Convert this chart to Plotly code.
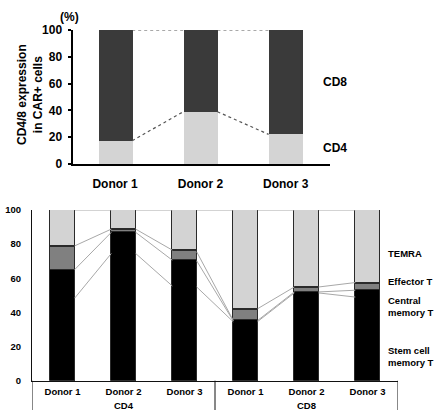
import plotly.graph_objects as go

# ---------------- data ----------------
donors = ["Donor 1", "Donor 2", "Donor 3"]
cd4_pct = [17.4, 39.0, 22.1]
cd8_pct = [82.6, 61.0, 77.9]
y_ticks_top = [0, 20, 40, 60, 80, 100]

groups = ["CD4", "CD8"]
subset_names = ["Stem cell\nmemory T", "Central\nmemory T", "Effector T", "TEMRA"]
stem_mem = [65.1, 86.9, 70.6, 35.7, 52.0, 53.3]
central_mem = [13.3, 1.5, 5.2, 5.8, 2.3, 3.5]
effector = [0.6, 0.7, 0.7, 0.7, 0.8, 0.7]
temra = [21.0, 10.9, 23.5, 57.8, 44.9, 42.5]
y_ticks_bottom = [0, 20, 40, 60, 80, 100]

# series-line end values between neighbouring bars (as drawn in the source)
series_start = [[79.0, 65.1, 48.4], [88.8, 86.9, 74.5], [75.5, 70.2, 54.9],
                [42.2, 35.3, 34.7], [54.9, 52.0, 51.4]]
series_end = [[88.8, 86.9, 74.5], [76.5, 70.6, 55.5], [35.3, 35.0, 34.5],
              [54.9, 52.0, 51.4], [57.5, 53.0, 49.0]]

# ---------------- styling ----------------
FONT = "Liberation Sans, Arial, sans-serif"
BW = 0.4

fig = go.Figure()

# top chart
xt = list(range(len(donors)))
fig.add_trace(go.Bar(x=xt, y=cd4_pct, width=BW, marker=dict(color="#d4d4d4", line=dict(width=0)),
                     xaxis="x", yaxis="y", showlegend=False, hoverinfo="skip"))
fig.add_trace(go.Bar(x=xt, y=cd8_pct, width=BW, marker=dict(color="#3a3a3a", line=dict(width=0)),
                     xaxis="x", yaxis="y", showlegend=False, hoverinfo="skip"))

tops_total = [a + b for a, b in zip(cd4_pct, cd8_pct)]
dx, dy = [], []
for series in (cd4_pct, tops_total):
    for i in range(len(series) - 1):
        dx += [i + BW / 2, i + 1 - BW / 2, None]
        dy += [series[i], series[i + 1], None]
fig.add_trace(go.Scatter(x=dx, y=dy, mode="lines", line=dict(color="#555555", width=1.2, dash="dot"),
                         xaxis="x", yaxis="y", showlegend=False, hoverinfo="skip"))

# bottom chart
xb = list(range(len(stem_mem)))
colors = ["#000000", "#808080", "#3c3c3c", "#d3d3d3"]
for vals, col in zip([stem_mem, central_mem, effector, temra], colors):
    fig.add_trace(go.Bar(x=xb, y=vals, width=BW, marker=dict(color=col, line=dict(color="#2a2a2a", width=1)),
                         xaxis="x2", yaxis="y2", showlegend=False, hoverinfo="skip"))

totals = [a + b + c + d for a, b, c, d in zip(stem_mem, central_mem, effector, temra)]
sx, sy = [], []
for i in range(len(xb) - 1):
    sx += [i + BW / 2, i + 1 - BW / 2, None]
    sy += [totals[i], totals[i + 1], None]
    for a, b in zip(series_start[i], series_end[i]):
        sx += [i + BW / 2, i + 1 - BW / 2, None]
        sy += [a, b, None]
fig.add_trace(go.Scatter(x=sx, y=sy, mode="lines", line=dict(color="#a8a8a8", width=1),
                         xaxis="x2", yaxis="y2", showlegend=False, hoverinfo="skip"))

W, H = 436, 410
def px(x): return x / W
def py(y): return 1 - y / H

bold = dict(family=FONT, color="#000000", weight="bold")

fig.update_layout(
    width=W, height=H, margin=dict(l=0, r=0, t=0, b=0, autoexpand=False),
    paper_bgcolor="white", plot_bgcolor="white", barmode="stack", bargap=0,
    xaxis=dict(domain=[px(72.5), px(330)], range=[-0.5, 2.52], anchor="y", automargin=False,
               tickvals=xt, ticktext=donors, ticks="", showline=True, linecolor="#000", linewidth=2,
               showgrid=False, zeroline=False, tickfont=dict(size=12, **bold), ticklabelstandoff=8),
    yaxis=dict(domain=[py(164), py(30)], range=[0, 100], anchor="x", automargin=False,
               tickvals=y_ticks_top, ticks="outside", ticklen=3, tickwidth=2, tickcolor="#000",
               showline=True, linecolor="#000", linewidth=2, showgrid=False, zeroline=False,
               tickfont=dict(size=12, **bold), ticklabelstandoff=3),
    xaxis2=dict(domain=[px(32), px(398)], range=[-0.5, 5.5], anchor="y2", automargin=False,
                tickvals=xb, ticktext=donors * 2, ticks="", showline=True, linecolor="#111", linewidth=1,
                showgrid=False, zeroline=False, tickfont=dict(size=9.5, **bold), ticklabelstandoff=2),
    yaxis2=dict(domain=[py(380.7), py(210)], range=[0, 100], anchor="x2", automargin=False,
                tickvals=y_ticks_bottom, ticks="", showline=True, linecolor="#111", linewidth=1,
                showgrid=False, zeroline=False, tickfont=dict(size=9.5, **bold), ticklabelstandoff=8),
)

ann = []
def add(text, x, y, size, xref="paper", xanchor="center", align="center", angle=0):
    ann.append(dict(text=text, x=x, y=py(y), xref=xref, yref="paper", showarrow=False,
                    xanchor=xanchor, yanchor="middle", align=align, textangle=angle,
                    font=dict(size=size, **bold)))

add("(%)", px(69.5), 17, 12)
add("CD4/8 expression<br>in CAR+ cells", px(30), 95, 12, angle=-90)
add("CD8", px(335), 82, 12)
add("CD4", px(335), 148, 12)
label_y = [356, 306, 281, 253]
for name, yy in zip(subset_names, label_y):
    add(name.replace("\n", "<br>"), px(386), yy, 9.5, xanchor="left", align="left")
for gi, g in enumerate(groups):
    add(g, gi * 3 + 1, 405, 9.5, xref="x2")
fig.update_layout(annotations=ann)

shapes = []
for xv in [-0.5, 2.5, 5.5]:
    shapes.append(dict(type="line", xref="x2", yref="paper", x0=xv, x1=xv, y0=0, y1=py(380.7),
                       line=dict(color="#111", width=1)))
fig.update_layout(shapes=shapes)

fig.write_html("out.html", config={"displayModeBar": False},
               post_script="document.body.style.margin='0px';document.body.style.overflow='hidden';")
